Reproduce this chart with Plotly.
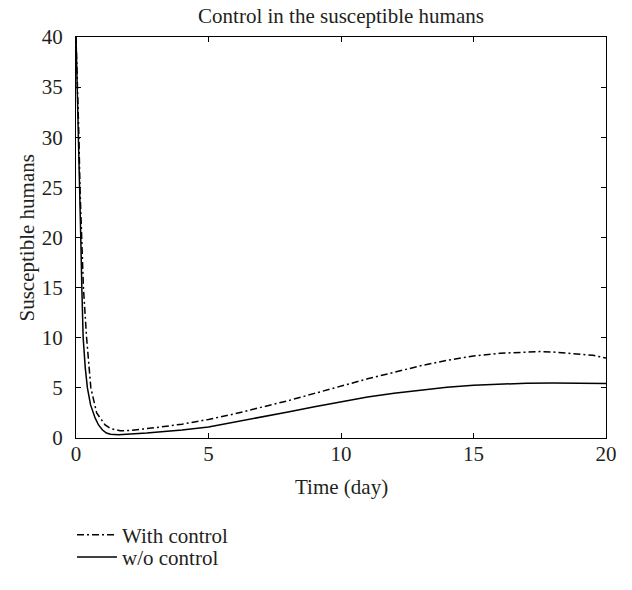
import plotly.graph_objects as go

# ---- data ----
t_without = [0, 0.05, 0.09, 0.125, 0.18, 0.22, 0.27, 0.35, 0.43, 0.55, 0.72, 0.85, 1.0, 1.15, 1.3,
             1.6, 2.0, 2.67, 3.0, 4.0, 5.0, 6.0, 7.0, 8.0, 9.0, 10.0, 11.0, 12.0, 13.0,
             14.0, 15.0, 16.0, 17.0, 18.0, 19.0, 20.0]
s_without = [40, 35, 30, 25, 20, 15, 10, 7, 5, 3.3, 2.0, 1.3, 0.8, 0.5, 0.38,
             0.33, 0.37, 0.5, 0.58, 0.8, 1.1, 1.58, 2.08, 2.6, 3.12, 3.62, 4.08, 4.47, 4.8,
             5.06, 5.26, 5.39, 5.47, 5.49, 5.47, 5.43]

t_with = [0, 0.06, 0.11, 0.15, 0.21, 0.28, 0.4, 0.56, 0.78, 0.9, 1.1, 1.3, 1.66, 2.0, 2.67,
          3.0, 4.0, 5.0, 6.0, 7.0, 8.0, 9.0, 10.0, 11.0, 12.0, 13.0, 14.0, 15.0,
          16.0, 17.0, 17.5, 18.0, 19.0, 19.5, 20.0]
s_with = [40, 35, 30, 25, 20, 15, 10, 5, 2.5, 2.0, 1.3, 0.95, 0.72, 0.75, 0.93,
          1.03, 1.38, 1.85, 2.42, 3.05, 3.72, 4.45, 5.2, 5.9, 6.55, 7.2, 7.75, 8.18,
          8.45, 8.6, 8.62, 8.58, 8.4, 8.25, 7.98]

x_ticks = [0, 5, 10, 15, 20]
y_ticks = [0, 5, 10, 15, 20, 25, 30, 35, 40]

title_text = "Control in the susceptible humans"
x_title = "Time (day)"
y_title = "Susceptible humans"
names = ["With control", "w/o control"]

FONT = "Liberation Serif"
FS = 21
TXT = "#231f20"

# plot area in pixels
L, R, T, B = 76, 26, 37, 136
W, H = 632, 590
PW, PH = W - L - R, H - T - B
bottom_px = H - B


def py(px):
    return (bottom_px - px) / PH


def pxx(px):
    return (px - L) / PW


fig = go.Figure()
fig.add_trace(go.Scatter(x=t_with, y=s_with, mode="lines", name=names[0], legend="legend",
                         line=dict(color="black", width=1.5, dash="7px,3px,2px,3px")))
fig.add_trace(go.Scatter(x=t_without, y=s_without, mode="lines", name=names[1], legend="legend2",
                         line=dict(color="black", width=1.5)))

axis_common = dict(showline=True, linecolor="black", linewidth=1, mirror="ticks",
                   ticks="inside", ticklen=5, tickcolor="black", showgrid=False,
                   zeroline=False, tickfont=dict(family=FONT, size=FS, color=TXT),
                   automargin=False)

leg_common = dict(xanchor="left", yanchor="middle", orientation="v",
                  bgcolor="rgba(0,0,0,0)", font=dict(family=FONT, size=FS, color=TXT),
                  itemwidth=40)

fig.update_layout(
    width=W, height=H,
    margin=dict(l=L, r=R, t=T, b=B),
    paper_bgcolor="white", plot_bgcolor="white",
    font=dict(family=FONT, size=FS, color=TXT),
    title=dict(text=title_text, x=0.5, xref="paper", y=1 - 16 / H, yref="container",
               yanchor="middle", xanchor="center", font=dict(family=FONT, size=FS, color=TXT)),
    showlegend=True,
    legend=dict(x=pxx(72), y=py(555), **leg_common),
    legend2=dict(x=pxx(72), y=py(578), **leg_common),
    annotations=[
        dict(text=x_title, x=0.5, y=py(505), xref="paper", yref="paper",
             xanchor="center", yanchor="middle", showarrow=False,
             font=dict(family=FONT, size=FS, color=TXT)),
        dict(text=y_title, x=pxx(26), y=0.5, xref="paper", yref="paper",
             xanchor="center", yanchor="middle", showarrow=False, textangle=-90,
             font=dict(family=FONT, size=FS, color=TXT)),
    ],
)
fig.update_xaxes(range=[0, 20], tickvals=x_ticks, ticktext=[str(v) for v in x_ticks],
                 ticklabelstandoff=-3, **axis_common)
fig.update_yaxes(range=[0, 40], tickvals=y_ticks, ticktext=[str(v) for v in y_ticks],
                 ticklabelstandoff=8, **axis_common)

fig.write_html("out.html")
